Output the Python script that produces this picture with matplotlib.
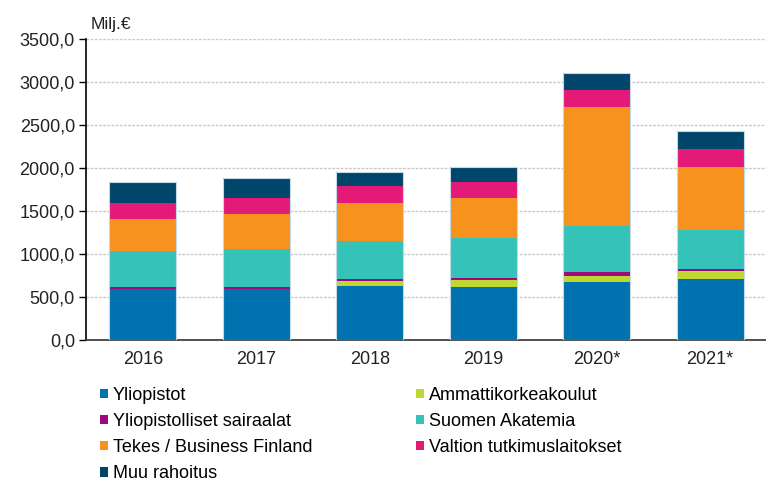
import numpy as np
import matplotlib.pyplot as plt
from matplotlib.patches import Patch

plt.rcParams['font.family'] = ['Liberation Sans', 'DejaVu Sans']

# Vuodet ja rahoituslähteet (milj. €)
vuodet = ['2016', '2017', '2018', '2019', '2020*', '2021*']
yliopistot = [590, 590, 625, 621, 680, 711]
ammattikorkeakoulut = [0, 0, 58, 77, 70, 94]
sairaalat = [22, 23, 23, 24, 43, 23]
akatemia = [428, 443, 446, 465, 527, 453]
tekes = [372, 411, 446, 466, 1386, 730]
valtion = [186, 186, 187, 186, 206, 207]
muu = [241, 225, 171, 170, 188, 211]

sarjat = [
    ('Yliopistot', yliopistot, '#0072b0'),
    ('Ammattikorkeakoulut', ammattikorkeakoulut, '#bfd730'),
    ('Yliopistolliset sairaalat', sairaalat, '#9c0a7e'),
    ('Suomen Akatemia', akatemia, '#35c2b9'),
    ('Tekes / Business Finland', tekes, '#f7921e'),
    ('Valtion tutkimuslaitokset', valtion, '#e41a78'),
    ('Muu rahoitus', muu, '#00466b'),
]

fig = plt.figure(figsize=(7.66, 4.84), dpi=100)
ax = fig.add_axes([86 / 766, 1 - 340 / 484, 681 / 766, 301 / 484])

x = np.arange(len(vuodet))
pohja = np.zeros(len(vuodet))
for nimi, arvot, vari in sarjat:
    ax.bar(x, arvot, bottom=pohja, width=0.59, color=vari, edgecolor='none', zorder=3)
    pohja += np.array(arvot)
# ohut vaalea reunus pylväiden ympärille
ax.bar(x, pohja, width=0.59, color='none', edgecolor='#c5d9e5', linewidth=0.8, zorder=4)

ax.set_xlim(-0.5, len(vuodet) - 0.5)
ax.set_ylim(0, 3500)
ax.set_yticks(np.arange(0, 3501, 500))
ax.set_yticklabels([f'{v:.1f}'.replace('.', ',') for v in np.arange(0, 3501, 500)])
ax.set_xticks(x)
ax.set_xticklabels(vuodet)
ax.tick_params(axis='x', length=0, pad=8, labelsize=13, colors='#222222')
ax.tick_params(axis='y', length=5, width=1, pad=3, labelsize=13, colors='#222222')
ax.tick_params(axis='y', color='black')
ax.grid(axis='y', color='#c9c9c9', linestyle=(0, (2, 1)), linewidth=1, zorder=0)

for s in ['top', 'right']:
    ax.spines[s].set_visible(False)
ax.spines['left'].set_linewidth(1.2)
ax.spines['bottom'].set_linewidth(1.2)
ax.spines['bottom'].set_color('#333333')

fig.text(91 / 766, 1 - 24 / 484, 'Milj.€', fontsize=12.5, va='center', ha='left', color='#222222')

# selite kahteen sarakkeeseen
kahvat = [Patch(facecolor=vari, edgecolor='none', label=nimi) for nimi, _, vari in sarjat]
vasen = [kahvat[i] for i in (0, 2, 4, 6)]
oikea = [kahvat[i] for i in (1, 3, 5)]
yhteiset = dict(frameon=False, fontsize=13, handlelength=0.45, handleheight=0.45,
                handletextpad=0.25, labelspacing=0.5, borderaxespad=0, borderpad=0,
                loc='upper left')
leg1 = fig.legend(handles=vasen, bbox_to_anchor=(100 / 766, 1 - 387 / 484), **yhteiset)
leg2 = fig.legend(handles=oikea, bbox_to_anchor=(416 / 766, 1 - 387 / 484), **yhteiset)

fig.savefig('out.png', dpi=100)
